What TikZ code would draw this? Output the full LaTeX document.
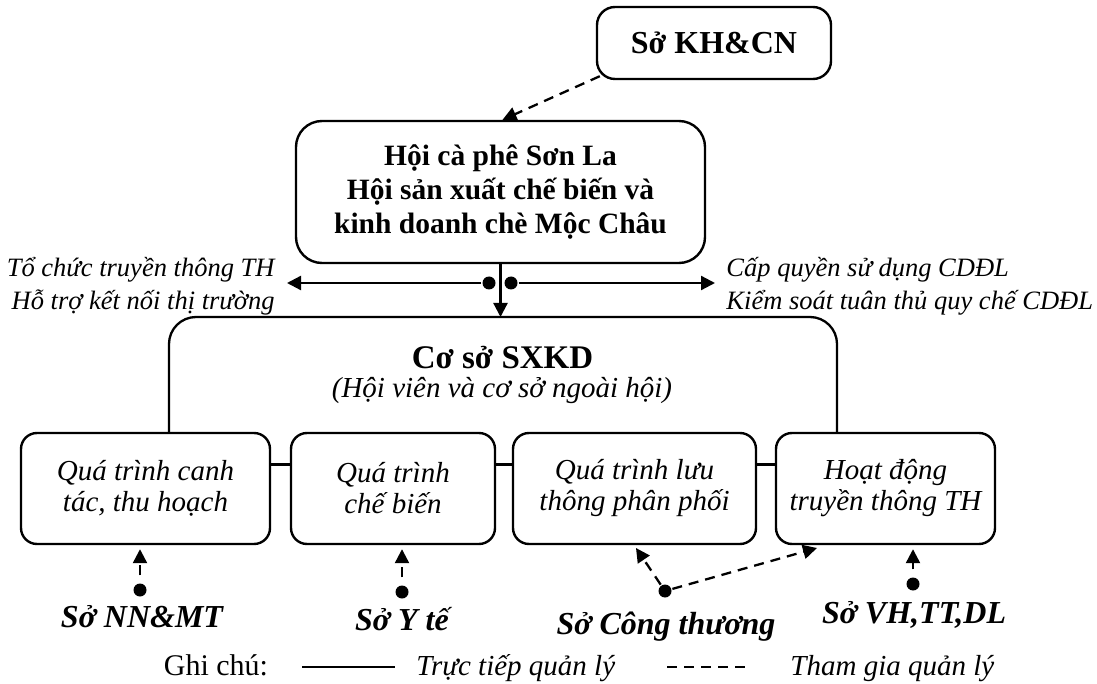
\documentclass[tikz,border=0pt]{standalone}
\usepackage{fontspec}
\setmainfont{Liberation Serif}
\usetikzlibrary{arrows.meta,positioning}

\tikzset{
  box/.style={draw,line width=2.4pt,rounded corners=16pt,align=center,inner sep=0pt},
  stage/.style={box,minimum height=111pt,font=\fontsize{29}{31}\selectfont\itshape,
                execute at begin node={\rule{0pt}{34pt}}},
  dot/.style={circle,fill,inner sep=0pt,minimum size=13pt},
  so/.style={font=\fontsize{32}{34}\selectfont\bfseries\itshape,anchor=base},
  part/.style={dash pattern=on 10pt off 7pt},
  >={Triangle[length=14pt,width=14pt]}
}

\begin{document}
\begin{tikzpicture}[x=1pt,y=-1pt,line width=2.3pt]
  \useasboundingbox (0,0) rectangle (1097,684);
  % cac hoi
  \node[box,minimum width=234pt,minimum height=72pt,rounded corners=18pt,
        font=\fontsize{32}{36}\selectfont\bfseries] (kh) at (714,43) {Sở KH\&CN};
  \node[box,minimum width=409pt,minimum height=142pt,rounded corners=26pt,
        font=\fontsize{29.5}{34}\selectfont\bfseries] (hoi) at (500.5,192)
        {Hội cà phê Sơn La\\Hội sản xuất chế biến và\\kinh doanh chè Mộc Châu};
  \draw[->,part] ([shift={(4pt,4pt)}]kh.south west) -- ([xshift=2pt]hoi.north);

  % nhanh ngang
  \node[dot] (dl) at (489,283) {};
  \node[dot] (dr) at (511,283) {};
  \coordinate (al) at (287,283);
  \coordinate (ar) at (715,283);
  \draw[->] (dl) -- (al);
  \draw[->] (dr) -- (ar);
  \node[anchor=east,align=right,font=\fontsize{26.5}{33}\selectfont\itshape] (ttl) at (279,286)
        {Tổ chức truyền thông TH\\Hỗ trợ kết nối thị trường};
  \node[anchor=west,align=left,font=\fontsize{26.5}{33}\selectfont\itshape] (ttr) at (722,286)
        {Cấp quyền sử dụng CDĐL\\Kiểm soát tuân thủ quy chế CDĐL};

  % co so SXKD
  \coordinate (top) at (500.5,317);
  \draw[->] (hoi) -- (top);
  \node[stage,minimum width=249pt] (b1) at (145.5,488.5) {Quá trình canh\\tác, thu hoạch};
  \node[stage,minimum width=204pt] (b2) at (393,488.5) {Quá trình\\chế biến};
  \node[stage,minimum width=243pt] (b3) at (634.5,488.5) {Quá trình lưu\\thông phân phối};
  \node[stage,minimum width=219pt] (b4) at (885.5,488.5) {Hoạt động\\truyền thông TH};
  \draw ([yshift=24pt]b1.east) -- ([yshift=24pt]b2.west);
  \draw ([yshift=24pt]b2.east) -- ([yshift=24pt]b3.west);
  \draw ([yshift=24pt]b3.east) -- ([yshift=24pt]b4.west);
  \draw[rounded corners=27pt] ([xshift=23.5pt]b1.north) |- (top) -| ([xshift=-48.5pt]b4.north);
  \node[font=\fontsize{33}{36}\selectfont\bfseries,anchor=base] (sx) at (502.5,368) {Cơ sở SXKD};
  \node[font=\fontsize{29}{32}\selectfont\itshape,anchor=base] (hv) at (502,397) {(Hội viên và cơ sở ngoài hội)};

  % cac so
  \node[so] (nn) at (142,627) {Sở NN\&MT};
  \node[so] (yt) at (402,630) {Sở Y tế};
  \node[so] (ct) at (666,634) {Sở Công thương};
  \node[so] (vh) at (914,623) {Sở VH,TT,DL};
  \node[dot] (dnn) at (140,590) {};
  \node[dot] (dyt) at (402,592) {};
  \node[dot] (dct) at (665,591) {};
  \node[dot] (dvh) at (913,584) {};
  \coordinate (t3) at (636,548);
  \coordinate (t4) at (817,548);
  \draw[->,part,dash phase=10pt,shorten >=4pt] (dnn) -- (dnn |- b1.south);
  \draw[->,part,dash phase=10pt,shorten >=4pt] (dyt) -- (dyt |- b2.south);
  \draw[->,part,dash phase=10pt,shorten >=4pt] (dvh) -- (dvh |- b4.south);
  \draw[->,part] (dct) -- (t3);
  \draw[->,part] (dct) -- (t4);

  % ghi chu
  \node[anchor=base,font=\fontsize{30}{32}\selectfont] (gc) at (216,675) {Ghi chú:};
  \coordinate (l1) at (302,667);
  \coordinate (l2) at (395,667);
  \draw (l1) -- (l2);
  \node[anchor=base west,font=\fontsize{29}{32}\selectfont\itshape] (tt) at (412,675) {Trực tiếp quản lý};
  \coordinate (l3) at (667,667);
  \coordinate (l4) at (751,667);
  \draw[part] (l3) -- (l4);
  \node[anchor=base west,font=\fontsize{29}{32}\selectfont\itshape] (tg) at (786,675) {Tham gia quản lý};
\end{tikzpicture}
\end{document}
